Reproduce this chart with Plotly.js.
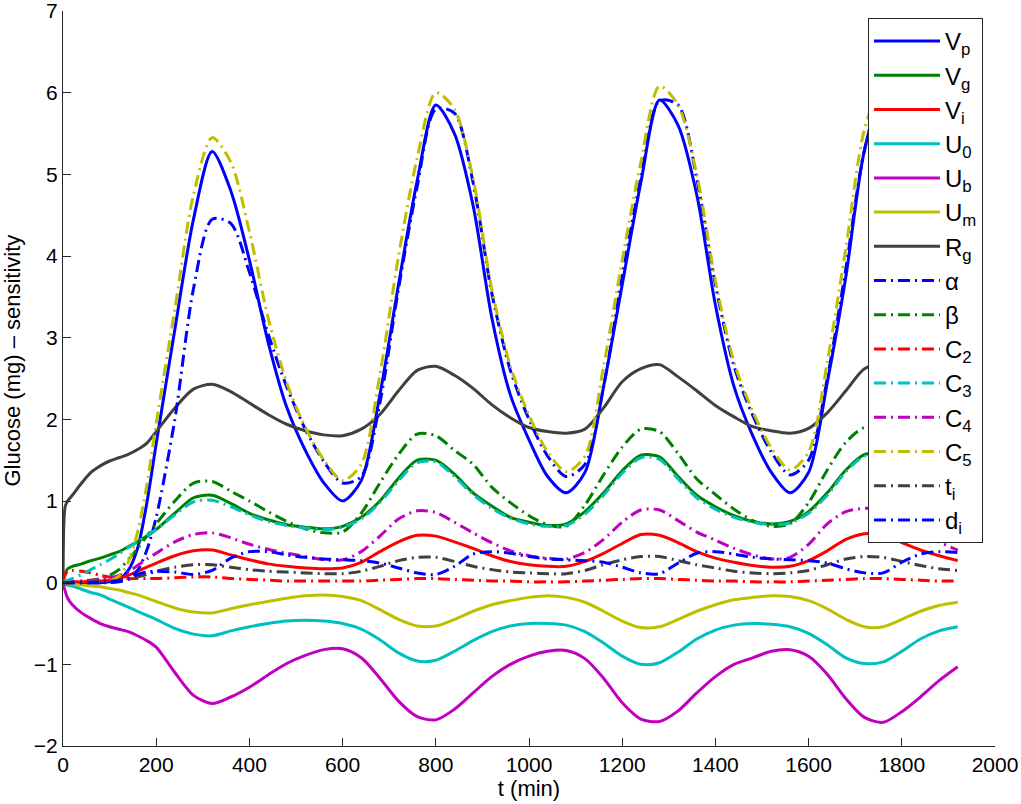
<!DOCTYPE html>
<html>
<head>
<meta charset="utf-8">
<script src="https://cdn.plot.ly/plotly-3.0.1.min.js"></script>
<style>html,body{margin:0;padding:0;background:#fff;}#chart{width:1021px;height:804px;}</style>
</head>
<body>
<div id="chart"></div>
<script>
const t = [0,2,5,10,20, 40,60,80,100,120,140,160,180,200, 240,280,320,360,400,440,480,520,560,600, 640,680,720,760,800,840,880,920,960,1000,1040,1080, 1120,1160,1200,1240,1280,1320,1360,1400,1440,1480,1520,1560, 1600,1640,1680,1720,1760,1800,1840,1880,1920];

const Vp = [0,0,0,0,0, 0,0,0,0.01,0.04,0.15,0.42,0.98,1.7, 3.1,4.45,5.28,4.8,3.95,2.95,2.15,1.62,1.22,1.0, 1.25,2.3,3.65,4.92,5.85,5.5,4.62,3.25,2.3,1.75,1.3,1.1, 1.35,2.4,3.65,4.9,5.91,5.6,4.75,3.4,2.4,1.8,1.35,1.1, 1.35,2.45,3.75,5.3,6.0,5.6,4.7,3.4,2.5];
const Vg = [0.02,0.07,0.12,0.17,0.2, 0.23,0.27,0.3,0.34,0.38,0.44,0.5,0.57,0.65, 0.85,1.04,1.07,0.97,0.85,0.77,0.71,0.68,0.66,0.69, 0.8,1.0,1.28,1.5,1.5,1.33,1.1,0.94,0.8,0.74,0.7,0.72, 0.87,1.1,1.37,1.56,1.54,1.3,1.07,0.93,0.82,0.75,0.72,0.75, 0.87,1.1,1.38,1.57,1.57,1.4,1.15,0.95,0.82];
const Vi = [0,0,0,0,0.01, 0.01,0.02,0.02,0.03,0.05,0.09,0.14,0.19,0.24, 0.33,0.39,0.4,0.34,0.28,0.23,0.2,0.18,0.17,0.18, 0.25,0.38,0.5,0.58,0.57,0.5,0.42,0.33,0.26,0.22,0.2,0.2, 0.26,0.36,0.48,0.59,0.58,0.49,0.38,0.3,0.25,0.21,0.19,0.2, 0.27,0.39,0.53,0.6,0.59,0.49,0.4,0.33,0.27];
const U0 = [0,-0.01,-0.02,-0.03,-0.04, -0.08,-0.12,-0.15,-0.2,-0.25,-0.3,-0.35,-0.4,-0.45, -0.56,-0.63,-0.65,-0.59,-0.54,-0.5,-0.47,-0.46,-0.47,-0.5, -0.57,-0.7,-0.86,-0.96,-0.95,-0.84,-0.71,-0.6,-0.53,-0.5,-0.5,-0.52, -0.6,-0.74,-0.9,-1.0,-0.98,-0.85,-0.69,-0.58,-0.52,-0.5,-0.51,-0.54, -0.62,-0.76,-0.92,-0.99,-0.97,-0.84,-0.69,-0.59,-0.54];
const Ub = [0,-0.05,-0.11,-0.19,-0.27, -0.37,-0.44,-0.5,-0.54,-0.57,-0.6,-0.65,-0.71,-0.79, -1.1,-1.38,-1.48,-1.4,-1.28,-1.13,-0.99,-0.89,-0.82,-0.81, -0.92,-1.17,-1.45,-1.64,-1.68,-1.55,-1.35,-1.15,-1.0,-0.9,-0.84,-0.83, -0.93,-1.17,-1.47,-1.67,-1.7,-1.57,-1.35,-1.15,-1.0,-0.92,-0.84,-0.82, -0.9,-1.12,-1.42,-1.65,-1.71,-1.58,-1.4,-1.2,-1.03];
const Um = [0,0,-0.01,-0.01,-0.02, -0.03,-0.04,-0.05,-0.07,-0.09,-0.12,-0.15,-0.19,-0.23, -0.31,-0.36,-0.37,-0.32,-0.27,-0.23,-0.19,-0.16,-0.15,-0.17, -0.22,-0.33,-0.45,-0.53,-0.53,-0.45,-0.35,-0.27,-0.22,-0.18,-0.16,-0.18, -0.24,-0.35,-0.47,-0.55,-0.54,-0.45,-0.35,-0.27,-0.21,-0.18,-0.16,-0.17, -0.22,-0.32,-0.45,-0.54,-0.54,-0.45,-0.35,-0.28,-0.24];
const Rg = [0,0.75,0.94,1.0,1.07, 1.22,1.35,1.43,1.49,1.53,1.57,1.63,1.71,1.85, 2.14,2.37,2.43,2.34,2.2,2.06,1.94,1.86,1.81,1.8, 1.88,2.06,2.35,2.6,2.65,2.54,2.38,2.18,2.02,1.9,1.85,1.83, 1.88,2.14,2.46,2.62,2.67,2.52,2.35,2.17,2.03,1.91,1.86,1.83, 1.89,2.08,2.35,2.62,2.68,2.58,2.4,2.2,2.05];
const alpha = [0,0,0,0,0, 0,0,0,0,0.01,0.04,0.15,0.4,0.8, 2.0,3.6,4.45,4.4,3.8,3.05,2.4,1.88,1.48,1.22, 1.3,2.2,3.6,4.85,5.8,5.75,4.9,3.55,2.6,2.0,1.55,1.3, 1.45,2.4,3.75,4.95,5.9,5.85,4.95,3.65,2.65,2.05,1.6,1.32, 1.5,2.5,3.85,5.3,6.0,5.8,4.95,3.65,2.65];
const beta = [0,0,0,0.01,0.01, 0.02,0.03,0.05,0.09,0.16,0.28,0.42,0.57,0.72, 1.0,1.22,1.24,1.12,1.0,0.87,0.75,0.66,0.61,0.62, 0.85,1.22,1.57,1.82,1.8,1.62,1.45,1.17,0.98,0.82,0.71,0.69, 0.95,1.32,1.66,1.88,1.85,1.58,1.27,1.08,0.9,0.76,0.69,0.72, 0.98,1.38,1.72,1.9,1.88,1.65,1.38,1.12,0.92];
const C2 = [0,0.05,0.1,0.14,0.15, 0.14,0.12,0.09,0.07,0.06,0.05,0.05,0.05,0.05, 0.06,0.07,0.07,0.05,0.04,0.03,0.02,0.02,0.02,0.02, 0.02,0.03,0.04,0.05,0.05,0.04,0.03,0.02,0.02,0.01,0.01,0.01, 0.02,0.03,0.04,0.05,0.05,0.04,0.03,0.02,0.02,0.01,0.01,0.01, 0.02,0.03,0.04,0.05,0.05,0.04,0.03,0.02,0.02];
const C3 = [0,0.01,0.02,0.03,0.05, 0.1,0.16,0.22,0.28,0.35,0.43,0.5,0.58,0.65, 0.83,0.99,1.01,0.93,0.83,0.75,0.7,0.67,0.65,0.68, 0.78,0.98,1.25,1.47,1.48,1.3,1.08,0.91,0.79,0.72,0.69,0.7, 0.84,1.07,1.34,1.53,1.51,1.27,1.04,0.9,0.8,0.74,0.71,0.73, 0.85,1.07,1.36,1.55,1.55,1.37,1.12,0.93,0.8];
const C4 = [0,0,0,0,0.01, 0.02,0.03,0.04,0.06,0.09,0.13,0.21,0.29,0.36, 0.5,0.59,0.61,0.55,0.47,0.41,0.36,0.32,0.28,0.28, 0.38,0.57,0.78,0.88,0.86,0.74,0.61,0.49,0.39,0.33,0.3,0.29, 0.37,0.53,0.74,0.89,0.89,0.76,0.62,0.52,0.42,0.34,0.29,0.31, 0.47,0.72,0.87,0.91,0.9,0.8,0.63,0.5,0.4];
const C5 = [0,0,0,0,0, 0,0,0,0.02,0.08,0.25,0.62,1.2,1.95, 3.35,4.75,5.45,5.15,4.3,3.25,2.45,1.9,1.5,1.25, 1.45,2.55,4.0,5.2,6.0,5.8,4.95,3.6,2.65,2.05,1.6,1.36, 1.55,2.65,3.95,5.15,6.08,5.85,5.0,3.7,2.7,2.1,1.65,1.38, 1.6,2.7,4.1,5.55,6.1,5.85,5.0,3.7,2.7];
const ti = [0,0,0,0,0, 0.01,0.01,0.02,0.02,0.03,0.05,0.07,0.1,0.14, 0.19,0.22,0.22,0.19,0.16,0.14,0.13,0.12,0.11,0.11, 0.14,0.2,0.27,0.31,0.31,0.26,0.2,0.16,0.13,0.12,0.11,0.11, 0.15,0.22,0.28,0.32,0.32,0.27,0.22,0.18,0.14,0.12,0.11,0.12, 0.15,0.22,0.29,0.32,0.31,0.26,0.21,0.17,0.15];
const di = [0,0,0,0,0, 0,0,0,0.01,0.02,0.05,0.1,0.13,0.14, 0.13,0.1,0.15,0.3,0.38,0.38,0.34,0.31,0.29,0.28, 0.27,0.24,0.18,0.12,0.1,0.2,0.35,0.38,0.36,0.32,0.29,0.28, 0.27,0.25,0.19,0.12,0.11,0.24,0.36,0.38,0.35,0.31,0.29,0.28, 0.27,0.24,0.17,0.12,0.12,0.25,0.35,0.38,0.37];

const seriesNames = ['V<sub>p</sub>','V<sub>g</sub>','V<sub>i</sub>','U<sub>0</sub>','U<sub>b</sub>','U<sub>m</sub>','R<sub>g</sub>','α','β','C<sub>2</sub>','C<sub>3</sub>','C<sub>4</sub>','C<sub>5</sub>','t<sub>i</sub>','d<sub>i</sub>'];
const seriesData = [Vp,Vg,Vi,U0,Ub,Um,Rg,alpha,beta,C2,C3,C4,C5,ti,di];
const colors = ['#0000FF','#008000','#FF0000','#00BFBF','#BF00BF','#BFBF00','#404040','#0000FF','#008000','#FF0000','#00BFBF','#BF00BF','#BFBF00','#404040','#0000FF'];
const xTicks = [0,200,400,600,800,1000,1200,1400,1600,1800,2000];
const yTicks = [-2,-1,0,1,2,3,4,5,6,7];
const DASHDOT = '12px,5px,2px,5px';

const traces = seriesData.map((y, i) => ({
  x: t, y: y, type: 'scatter', mode: 'lines',
  name: seriesNames[i],
  legendgroup: 'g' + i,
  line: {color: colors[i], width: 3, shape: 'spline', smoothing: 0.8, dash: i < 7 ? 'solid' : DASHDOT},
  hoverinfo: 'x+y+name'
}));

const FONT = 'Liberation Sans, Arial, Helvetica, sans-serif';
const axisCommon = {
  showgrid: false, zeroline: false, showline: true, linecolor: '#262626', linewidth: 1,
  ticks: 'inside', ticklen: 8, tickwidth: 1, tickcolor: '#262626', mirror: false,
  ticklabeloverflow: 'allow',
  tickfont: {family: FONT, size: 21, color: '#000'}
};

const layout = {
  width: 1021, height: 804,
  margin: {l: 63, r: 26, t: 11, b: 58},
  paper_bgcolor: '#fff', plot_bgcolor: '#fff',
  showlegend: true,
  xaxis: Object.assign({}, axisCommon, {
    range: [0, 2000], tickmode: 'array', tickvals: xTicks,
    title: {text: 't (min)', font: {family: FONT, size: 22, color: '#000'}, standoff: 2}
  }),
  yaxis: Object.assign({}, axisCommon, {
    range: [-2, 7.0005], tickmode: 'array', tickvals: yTicks
  }),
  annotations: [{
    text: 'Glucose (mg) – sensitivity', textangle: -90,
    xref: 'paper', x: -0.0537, xanchor: 'center',
    yref: 'y', y: 2.72, yanchor: 'middle',
    showarrow: false, font: {family: FONT, size: 22, color: '#000'}
  }],
  legend: {
    x: 0.8637, y: 0.9905, xanchor: 'left', yanchor: 'top',
    bgcolor: '#fff', bordercolor: '#262626', borderwidth: 1,
    font: {family: FONT, size: 24, color: '#000'},
    itemwidth: 66, tracegroupgap: 3, traceorder: 'normal'
  }
};

Plotly.newPlot('chart', traces, layout, {displayModeBar: false, staticPlot: true});
</script>
</body>
</html>
